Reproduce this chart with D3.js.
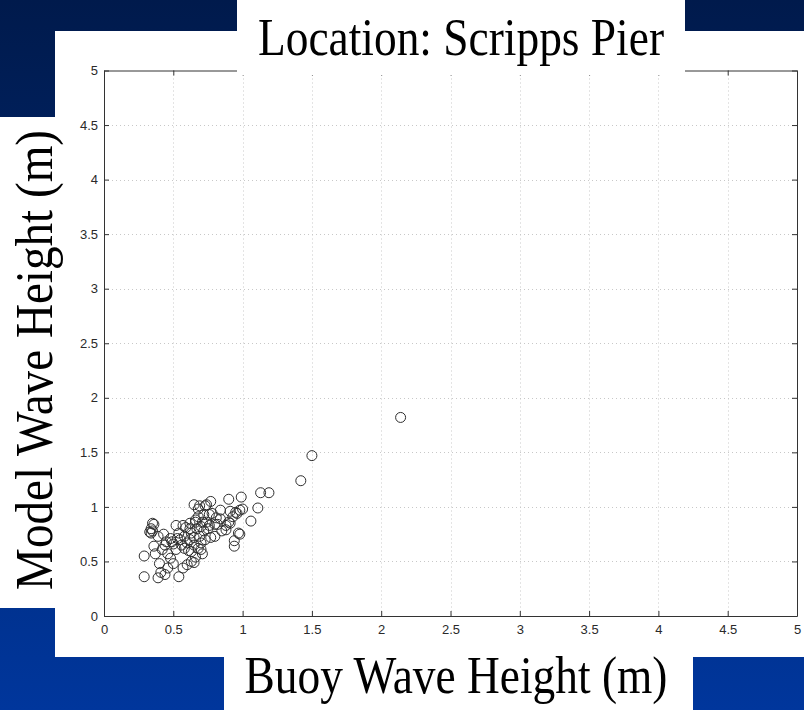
<!DOCTYPE html>
<html>
<head>
<meta charset="utf-8">
<script src="https://cdn.jsdelivr.net/npm/d3@7"></script>
<style>
  html, body { margin: 0; padding: 0; background: #002a80; }
  svg { display: block; }
</style>
</head>
<body>
<svg id="chart" width="804" height="710"></svg>
<script>
// Significant wave height, buoy observation vs. model estimate (m)
const buoyHeight = [
  2.14, 1.50, 1.42, 1.13, 1.19, 0.99, 0.90, 1.11, 1.00, 1.06, 0.98, 0.94, 0.94,
  0.77, 0.65, 0.73, 0.74, 0.68, 0.69, 0.84, 0.91, 0.96, 0.93, 0.95, 0.98, 0.76,
  0.78, 0.81, 0.84, 0.71, 0.66, 0.62, 0.57, 0.52, 0.82, 0.88, 0.90, 0.91, 0.67,
  0.66, 0.63, 0.54, 0.48, 0.97,
  0.36, 0.35, 0.34, 0.33, 0.35, 0.34, 0.43, 0.39,
  0.70, 0.72, 0.75, 0.69, 0.73, 0.77, 0.80, 0.70, 0.68, 0.65, 0.60, 0.55, 0.49,
  0.45, 0.52, 0.42, 0.36, 0.37, 0.29, 0.40, 0.48, 0.46, 0.57, 0.60, 0.63, 0.66,
  0.29, 0.39, 0.44, 0.54, 0.58, 0.61, 0.56, 0.50, 0.46, 0.44, 0.62, 0.65, 0.58,
  0.85, 0.88, 0.74, 0.80, 0.70, 0.63, 0.71, 0.76, 0.62, 0.68, 0.72, 0.59, 0.53,
  0.41, 0.50, 0.65
];
const modelHeight = [
  1.82, 1.47, 1.24, 1.13, 1.13, 1.09, 1.07, 0.99, 0.98, 0.87, 0.75, 0.69, 0.64,
  1.05, 1.02, 1.01, 1.02, 0.98, 1.01, 0.97, 0.96, 0.94, 0.91, 0.95, 0.97, 0.93,
  0.94, 0.90, 0.89, 0.86, 0.86, 0.85, 0.83, 0.83, 0.84, 0.83, 0.86, 0.85, 0.80,
  0.88, 0.76, 0.76, 0.71, 0.76,
  0.84, 0.85, 0.80, 0.77, 0.78, 0.76, 0.75, 0.73,
  0.82, 0.78, 0.80, 0.73, 0.70, 0.72, 0.73, 0.67, 0.62, 0.65, 0.67, 0.70, 0.68,
  0.68, 0.61, 0.61, 0.64, 0.57, 0.55, 0.48, 0.53, 0.44, 0.44, 0.47, 0.50, 0.54,
  0.36, 0.35, 0.38, 0.36, 0.62, 0.60, 0.65, 0.66, 0.57, 0.65, 0.70, 0.72, 0.73,
  0.78, 0.79, 0.86, 0.84, 0.61, 0.59, 0.57, 0.83, 0.80, 0.91, 0.93, 0.81, 0.71,
  0.40, 0.48, 0.49
];
const axisTicks = [0, 0.5, 1, 1.5, 2, 2.5, 3, 3.5, 4, 4.5, 5];
const titleText = "Location: Scripps Pier";
const xTitle = "Buoy Wave Height (m)";
const yTitle = "Model Wave Height (m)";

const svg = d3.select("#chart");
const W = 804, H = 710;

// slide background
const defs = svg.append("defs");
const grad = defs.append("linearGradient").attr("id", "bg")
  .attr("x1", 0).attr("y1", 0).attr("x2", 0).attr("y2", 1);
grad.append("stop").attr("offset", "0%").attr("stop-color", "#001a4c");
grad.append("stop").attr("offset", "45%").attr("stop-color", "#00276f");
grad.append("stop").attr("offset", "100%").attr("stop-color", "#00369c");
svg.append("rect").attr("width", W).attr("height", H).attr("fill", "url(#bg)");

// white panels behind the figure and its labels
svg.append("rect").attr("x", 55).attr("y", 31).attr("width", W - 55).attr("height", 626).attr("fill", "#fff");
svg.append("rect").attr("x", 0).attr("y", 117).attr("width", 56).attr("height", 491).attr("fill", "#fff");
svg.append("rect").attr("x", 224).attr("y", 656).attr("width", 469).attr("height", 54).attr("fill", "#fff");

const x = d3.scaleLinear().domain([0, 5]).range([104, 797]);
const y = d3.scaleLinear().domain([0, 5]).range([616, 70.5]);

// dotted grid
const grid = svg.append("g").attr("stroke", "#c8c8c8").attr("stroke-width", 1)
  .attr("stroke-dasharray", "1,3");
grid.selectAll(".gx").data(axisTicks.slice(1, -1)).join("line")
  .attr("x1", d => Math.round(x(d)) + 0.5).attr("x2", d => Math.round(x(d)) + 0.5)
  .attr("y1", y(5)).attr("y2", y(0));
grid.selectAll(".gy").data(axisTicks.slice(1, -1)).join("line")
  .attr("y1", d => Math.round(y(d)) + 0.5).attr("y2", d => Math.round(y(d)) + 0.5)
  .attr("x1", x(0)).attr("x2", x(5));

// axes with inward ticks on all four sides
const axisStyle = g => {
  g.selectAll("path, line").attr("stroke", "#333");
  g.selectAll("text").attr("fill", "#2a2a2a")
    .style("font-family", "'Liberation Sans', Arial, sans-serif").style("font-size", "13px");
};
svg.append("g").attr("transform", `translate(0,${y(0)})`)
  .call(d3.axisBottom(x).tickValues(axisTicks).tickSize(-5).tickSizeOuter(0).tickPadding(9)
    .tickFormat(d3.format("~g")))
  .call(axisStyle);
svg.append("g").attr("transform", `translate(${x(0)},0)`)
  .call(d3.axisLeft(y).tickValues(axisTicks).tickSize(-5).tickSizeOuter(0).tickPadding(6)
    .tickFormat(d3.format("~g")))
  .call(axisStyle);
svg.append("g").attr("transform", `translate(0,${y(5)})`)
  .call(d3.axisTop(x).tickValues(axisTicks).tickSize(-5).tickSizeOuter(0).tickFormat(""))
  .call(axisStyle);
svg.append("g").attr("transform", `translate(${x(5)},0)`)
  .call(d3.axisRight(y).tickValues(axisTicks).tickSize(-5).tickSizeOuter(0).tickFormat(""))
  .call(axisStyle);

// scatter of open circles
const pts = buoyHeight.map((b, i) => ({ b, m: modelHeight[i] }));
svg.append("g").selectAll("circle").data(pts).join("circle")
  .attr("cx", d => x(d.b)).attr("cy", d => y(d.m)).attr("r", 5)
  .attr("fill", "none").attr("stroke", "#2e2e2e").attr("stroke-width", 1);

// title box overlapping the top of the frame
svg.append("rect").attr("x", 237).attr("y", 0).attr("width", 448).attr("height", 75).attr("fill", "#fff");

const serif = "'Liberation Serif', 'Times New Roman', serif";
svg.append("text").attr("x", 461).attr("y", 55).attr("text-anchor", "middle")
  .attr("textLength", 406).attr("lengthAdjust", "spacingAndGlyphs")
  .style("font-family", serif).style("font-size", "52px").attr("fill", "#000")
  .text(titleText);
svg.append("text").attr("x", 456).attr("y", 693).attr("text-anchor", "middle")
  .attr("textLength", 423).attr("lengthAdjust", "spacingAndGlyphs")
  .style("font-family", serif).style("font-size", "52px").attr("fill", "#000")
  .text(xTitle);
svg.append("text").attr("transform", "translate(52,360) rotate(-90)").attr("text-anchor", "middle")
  .attr("textLength", 460).attr("lengthAdjust", "spacingAndGlyphs")
  .style("font-family", serif).style("font-size", "52px").attr("fill", "#000")
  .text(yTitle);
</script>
</body>
</html>
